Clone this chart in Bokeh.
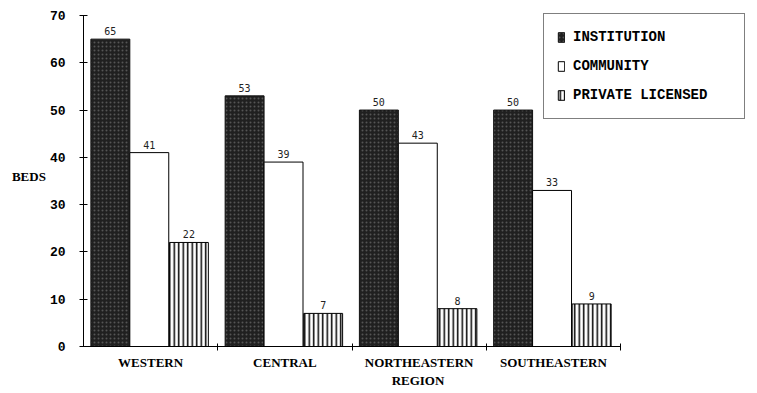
from bokeh.plotting import figure
from bokeh.models import FixedTicker, Range1d, Legend, LegendItem, ColumnDataSource
from bokeh.transform import dodge
from bokeh.core.properties import value
from bokeh.embed import file_html
from bokeh.resources import INLINE

regions = ["WESTERN", "CENTRAL", "NORTHEASTERN", "SOUTHEASTERN"]
institution = [65, 53, 50, 50]
community = [41, 39, 43, 33]
private_licensed = [22, 7, 8, 9]
series_names = ["INSTITUTION", "COMMUNITY", "PRIVATE LICENSED"]
y_ticks = [0, 10, 20, 30, 40, 50, 60, 70]

src = ColumnDataSource(dict(
    x=list(range(len(regions))),
    inst=institution, comm=community, priv=private_licensed,
    inst_t=[str(v) for v in institution],
    comm_t=[str(v) for v in community],
    priv_t=[str(v) for v in private_licensed],
))

p = figure(width=752, height=390, x_range=Range1d(0, 4.983), y_range=Range1d(0, 71.9),
           output_backend="svg", toolbar_location=None,
           min_border_left=83, min_border_right=0, min_border_top=6, min_border_bottom=0)
p.grid.visible = False
p.outline_line_color = None
p.background_fill_color = "white"

W = 0.29
r1 = p.vbar(x=dodge("x", 0.2, range=p.x_range), top="inst", width=W, bottom=0, source=src,
            fill_color="#202020", line_color="#111111",
            hatch_pattern="dot", hatch_color="#555555", hatch_scale=4, hatch_weight=1)
r2 = p.vbar(x=dodge("x", 0.49, range=p.x_range), top="comm", width=W, bottom=0, source=src,
            fill_color="white", line_color="black", line_width=1)
r3 = p.vbar(x=dodge("x", 0.785, range=p.x_range), top="priv", width=W, bottom=0, source=src,
            fill_color="white", line_color="black", line_width=1,
            hatch_pattern="vertical_line", hatch_color="black", hatch_scale=4.5, hatch_weight=1.5)

for off, col in [(0.2, "inst"), (0.49, "comm"), (0.785, "priv")]:
    p.text(x=dodge("x", off, range=p.x_range), y=col, text=col + "_t", source=src,
           text_align="center", text_baseline="bottom", y_offset=-4,
           text_font=value("DejaVu Sans Mono"), text_font_size="10px", text_color="#222222")

# y axis
ya = p.yaxis[0]
ya.ticker = FixedTicker(ticks=y_ticks, minor_ticks=[])
ya.bounds = (0, 70)
ya.axis_label = "BEDS"
ya.axis_label_orientation = "horizontal"
ya.axis_label_standoff = 1
ya.axis_label_text_font = "Liberation Serif"
ya.axis_label_text_font_style = "bold"
ya.axis_label_text_font_size = "13px"
ya.major_label_text_font = "Liberation Mono"
ya.major_label_text_font_style = "bold"
ya.major_label_text_font_size = "13px"
ya.major_label_standoff = 14
ya.major_tick_in = 4
ya.major_tick_out = 4
for a in [ya, p.xaxis[0]]:
    a.axis_line_color = "black"
    a.major_tick_line_color = "black"
    a.major_label_text_color = "black"
    a.axis_label_text_color = "black"

# x axis
xa = p.xaxis[0]
xa.ticker = FixedTicker(ticks=[i + 0.5 for i in range(len(regions))],
                        minor_ticks=[i + 1 for i in range(len(regions))])
xa.major_label_overrides = {i + 0.5: r for i, r in enumerate(regions)}
xa.bounds = (0, len(regions))
xa.major_tick_line_color = None
xa.minor_tick_line_color = "black"
xa.minor_tick_in = 3
xa.minor_tick_out = 4
xa.major_label_standoff = 2
xa.major_label_text_font = "Liberation Serif"
xa.major_label_text_font_style = "bold"
xa.major_label_text_font_size = "13px"
xa.axis_label = "REGION"
xa.axis_label_standoff = 0
xa.axis_label_text_font = "Liberation Serif"
xa.axis_label_text_font_style = "bold"
xa.axis_label_text_font_size = "13px"

legend = Legend(items=[LegendItem(label=series_names[0], renderers=[r1]),
                       LegendItem(label=series_names[1], renderers=[r2]),
                       LegendItem(label=series_names[2], renderers=[r3])],
                location="top_right", margin=7, padding=13, spacing=9,
                glyph_width=8, glyph_height=12, label_height=20, label_standoff=8,
                label_width=158,
                border_line_color="black", border_line_width=1,
                background_fill_color="white", background_fill_alpha=1,
                label_text_font="Liberation Mono", label_text_font_style="bold",
                label_text_font_size="14px", label_text_color="black")
p.add_layout(legend, "center")

open("out.html", "w").write(file_html(p, INLINE))
